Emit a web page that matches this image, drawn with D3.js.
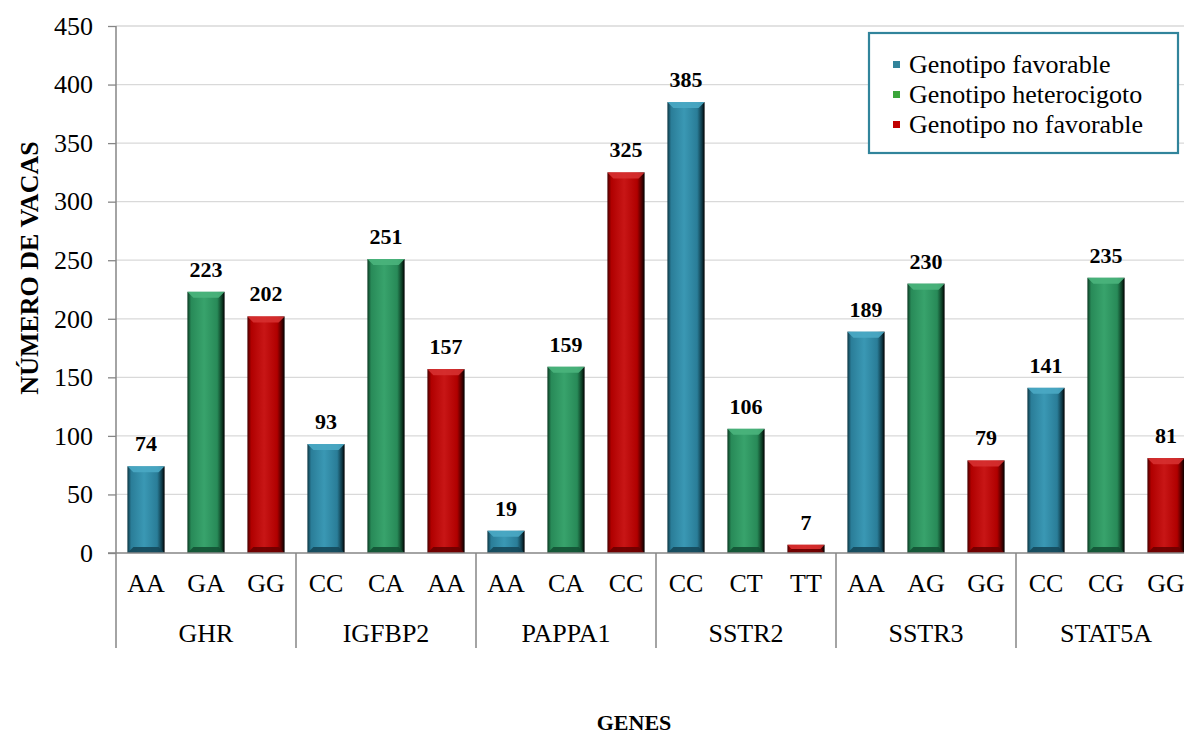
<!DOCTYPE html>
<html><head><meta charset="utf-8">
<script src="https://cdn.jsdelivr.net/npm/d3@7"></script>
<style>
body{margin:0;background:#fff;}
svg{display:block;}
svg text{font-family:"Liberation Serif","Times New Roman",serif;}
</style></head>
<body><svg id="c" width="1184" height="736"></svg>
<script>
const genes = ["GHR","IGFBP2","PAPPA1","SSTR2","SSTR3","STAT5A"];
const genotypes = [["AA","GA","GG"],["CC","CA","AA"],["AA","CA","CC"],["CC","CT","TT"],["AA","AG","GG"],["CC","CG","GG"]];
const values = [[74,223,202],[93,251,157],[19,159,325],[385,106,7],[189,230,79],[141,235,81]];
const seriesNames = ["Genotipo favorable","Genotipo heterocigoto","Genotipo no favorable"];
const yTicks = [0,50,100,150,200,250,300,350,400,450];

(function(){
const FF = "Liberation Serif, Times New Roman, serif";
const svg = d3.select("#c");
const pLeft = 116, pRight = 1196, pTop = 26, pBottom = 553;
const rows = [];
genes.forEach((g,i)=>genotypes[i].forEach((t,j)=>rows.push({gene:g,gi:i,geno:t,s:j,v:values[i][j],key:g+"-"+t})));

const x = d3.scaleBand().domain(rows.map(d=>d.key)).range([pLeft,pRight]).paddingInner(0.38).paddingOuter(0.19);
const y = d3.scaleLinear().domain([0,450]).range([pBottom,pTop]);

// gridlines
svg.append("g").selectAll("line").data(yTicks.filter(t=>t>0)).join("line")
  .attr("x1",pLeft).attr("x2",1184).attr("y1",d=>y(d)).attr("y2",d=>y(d))
  .attr("stroke","#d9d9d9").attr("stroke-width",1.3);

// y axis
const yAxis = d3.axisLeft(y).tickValues(yTicks).tickSize(8).tickPadding(15);
const ya = svg.append("g").attr("transform",`translate(${pLeft},0)`).call(yAxis);
ya.attr("font-family",FF);
ya.select(".domain").remove();
ya.selectAll(".tick line").attr("stroke","#868686").attr("stroke-width",1.3);
ya.selectAll(".tick text").attr("font-size",26).attr("font-family",FF).attr("fill","#000");
svg.append("line").attr("x1",pLeft).attr("x2",pLeft).attr("y1",y(450)).attr("y2",648).attr("stroke","#868686").attr("stroke-width",1.5);

// gradients
const pal = [
  {base:"#2a7d98",light:"#3a98b4",dark:"#0e3744",top:"#4aa8c4",bot:"#15485a"},
  {base:"#288a58",light:"#38a36c",dark:"#0c3a22",top:"#4ab47c",bot:"#135234"},
  {base:"#b00000",light:"#c81616",dark:"#450000",top:"#d63030",bot:"#6a0000"}
];
const defs = svg.append("defs");
pal.forEach((p,i)=>{
  const g = defs.append("linearGradient").attr("id","g"+i).attr("x1","0").attr("x2","1").attr("y1","0").attr("y2","0");
  [[0,p.dark],[0.1,p.base],[0.45,p.light],[0.8,p.base],[0.93,p.dark],[1,"#000"]].forEach(s=>g.append("stop").attr("offset",s[0]).attr("stop-color",s[1]));
});

const bars = svg.append("g").selectAll("g").data(rows).join("g");
const b = 6;
bars.append("rect").attr("x",d=>x(d.key)).attr("width",x.bandwidth())
  .attr("y",d=>y(d.v)).attr("height",d=>pBottom-y(d.v)).attr("fill",d=>`url(#g${d.s})`);
bars.append("polygon").attr("points",d=>{
  const x0=x(d.key),w=x.bandwidth(),y0=y(d.v),bb=Math.min(b,(pBottom-y0)/2);
  return [[x0,y0],[x0+w,y0],[x0+w-bb,y0+bb],[x0+bb,y0+bb]].join(" ");
}).attr("fill",d=>pal[d.s].top).attr("opacity",0.9);
bars.append("polygon").attr("points",d=>{
  const x0=x(d.key),w=x.bandwidth(),y0=y(d.v),bb=Math.min(b,(pBottom-y0)/2);
  return [[x0,pBottom],[x0+w,pBottom],[x0+w-bb,pBottom-bb],[x0+bb,pBottom-bb]].join(" ");
}).attr("fill",d=>pal[d.s].bot).attr("opacity",0.9);

// value labels
bars.append("text").attr("x",d=>x(d.key)+x.bandwidth()/2).attr("y",d=>y(d.v)-15)
  .attr("text-anchor","middle").attr("font-weight","bold").attr("font-size",22).attr("font-family",FF).text(d=>d.v);

// x axis
svg.append("line").attr("x1",108).attr("x2",1184).attr("y1",pBottom).attr("y2",pBottom).attr("stroke","#868686").attr("stroke-width",1.5);
svg.append("g").selectAll("text").data(rows).join("text")
  .attr("x",d=>x(d.key)+x.bandwidth()/2).attr("y",592).attr("text-anchor","middle")
  .attr("font-size",26).attr("font-family",FF).text(d=>d.geno);
const step = x.step();
svg.append("g").selectAll("line").data(genes.slice(1)).join("line")
  .attr("x1",(d,i)=>x(rows[(i+1)*3].key)-x.paddingInner()*step/2).attr("x2",(d,i)=>x(rows[(i+1)*3].key)-x.paddingInner()*step/2)
  .attr("y1",pBottom).attr("y2",648).attr("stroke","#868686").attr("stroke-width",1.5);
svg.append("g").selectAll("text").data(genes).join("text")
  .attr("x",(d,i)=>x(rows[i*3+1].key)+x.bandwidth()/2).attr("y",642).attr("text-anchor","middle")
  .attr("font-size",26).attr("font-family",FF).text(d=>d);

// axis titles
svg.append("text").attr("x",634).attr("y",730).attr("text-anchor","middle").attr("font-weight","bold").attr("font-size",22).attr("font-family",FF).text("GENES");
svg.append("text").attr("transform","translate(38,268) rotate(-90)").attr("text-anchor","middle").attr("font-weight","bold").attr("font-size",26).attr("font-family",FF).text("NÚMERO DE VACAS");

// legend
const lg = svg.append("g");
lg.append("rect").attr("x",869).attr("y",33).attr("width",309).attr("height",120).attr("fill","#fff").attr("stroke","#31849b").attr("stroke-width",2.2);
const mk = ["#31849b","#3aa53a","#c00000"];
seriesNames.forEach((n,i)=>{
  lg.append("rect").attr("x",893).attr("y",61+i*30).attr("width",7).attr("height",7).attr("fill",mk[i]);
  lg.append("text").attr("x",909).attr("y",73+i*30).attr("font-size",26).attr("font-family",FF).text(n);
});
})();
</script></body></html>
